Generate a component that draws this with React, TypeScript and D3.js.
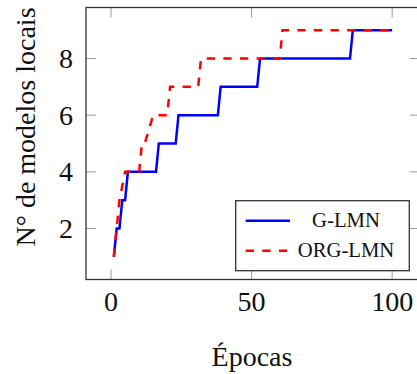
import React from "react";
import * as d3 from "d3";

// Model counts per training epoch (corner points of each curve)
const gEpochs = [1, 2, 3, 4, 5, 6, 16, 17, 23, 24, 38, 39, 52, 53, 85, 86, 100];
const gModels = [1, 2, 2, 3, 3, 4, 4, 5, 5, 6, 6, 7, 7, 8, 8, 9, 9];
const orgEpochs = [1, 2, 3, 5, 10, 11, 12, 15, 20, 21, 31, 32, 60, 61, 100];
const orgModels = [1, 2, 3, 4, 4, 5, 5, 6, 6, 7, 7, 8, 8, 9, 9];

const xTicks = [0, 50, 100];
const yTicks = [2, 4, 6, 8];
const seriesNames = ["G-LMN", "ORG-LMN"];

const W = 417;
const H = 374;
const FONT = "Liberation Serif, DejaVu Serif, serif";

export default function App() {
  const x = d3.scaleLinear().domain([-8.9, 109.9]).range([86, 420]);
  const y = d3.scaleLinear().domain([0.2, 9.8]).range([279.5, 7.5]);

  const line = d3
    .line<[number, number]>()
    .x((d) => x(d[0]))
    .y((d) => y(d[1]));

  const gData: [number, number][] = gEpochs.map((e, i) => [e, gModels[i]]);
  const orgData: [number, number][] = orgEpochs.map((e, i) => [e, orgModels[i]]);

  const [x0, x1] = x.range();
  const [y0, y1] = y.range();
  const tickLen = 10;
  const tickColor = "#9a9a9a";
  const textStyle = { fontFamily: FONT };

  return (
    <svg
      width={W}
      height={H}
      style={{ position: "absolute", left: 0, top: 0, background: "#fff", fontFamily: FONT }}
    >
      {/* tick marks on all four sides */}
      {xTicks.map((t) => (
        <g key={"xt" + t} stroke={tickColor} strokeWidth={1}>
          <line x1={x(t)} x2={x(t)} y1={y0} y2={y0 - tickLen} />
          <line x1={x(t)} x2={x(t)} y1={y1} y2={y1 + tickLen} />
        </g>
      ))}
      {yTicks.map((t) => (
        <g key={"yt" + t} stroke={tickColor} strokeWidth={1}>
          <line x1={x0} x2={x0 + tickLen} y1={y(t)} y2={y(t)} />
          <line x1={x1} x2={x1 - tickLen} y1={y(t)} y2={y(t)} />
        </g>
      ))}

      {/* data curves */}
      <path d={line(gData) ?? ""} fill="none" stroke="#0000ff" strokeWidth={2.5} />
      <path
        d={line(orgData) ?? ""}
        fill="none"
        stroke="#ff0000"
        strokeWidth={2.5}
        strokeDasharray="8.3 8.3"
      />

      {/* axis frame */}
      <rect x={x0} y={y1} width={x1 - x0} height={y0 - y1} fill="none" stroke="#333" strokeWidth={1.3} />

      {/* tick labels */}
      {xTicks.map((t) => (
        <text key={"xl" + t} x={x(t)} y={311} textAnchor="middle" fontSize={28} fill="#111" style={textStyle}>
          {t}
        </text>
      ))}
      {yTicks.map((t) => (
        <text key={"yl" + t} x={73} y={y(t) + 9.5} textAnchor="end" fontSize={28} fill="#111" style={textStyle}>
          {t}
        </text>
      ))}

      {/* axis titles */}
      <text x={252} y={366} textAnchor="middle" fontSize={28} fill="#111" style={textStyle}>
        Épocas
      </text>
      <text
        transform="translate(35,127) rotate(-90)"
        textAnchor="middle"
        fontSize={28}
        fill="#111"
        style={textStyle}
      >
        N° de modelos locais
      </text>

      {/* legend */}
      <g>
        <rect x={235.7} y={200.7} width={173.6} height={70} fill="#fff" stroke="#333" strokeWidth={1.3} />
        <line x1={245.7} x2={290} y1={220.7} y2={220.7} stroke="#0000ff" strokeWidth={2.5} />
        <line x1={245.7} x2={290} y1={250.7} y2={250.7} stroke="#ff0000" strokeWidth={2.5} strokeDasharray="8.3 8.3" />
        <text x={346} y={227} textAnchor="middle" fontSize={20.7} fill="#111" style={textStyle}>
          {seriesNames[0]}
        </text>
        <text x={346} y={257} textAnchor="middle" fontSize={20.7} fill="#111" style={textStyle}>
          {seriesNames[1]}
        </text>
      </g>
    </svg>
  );
}
